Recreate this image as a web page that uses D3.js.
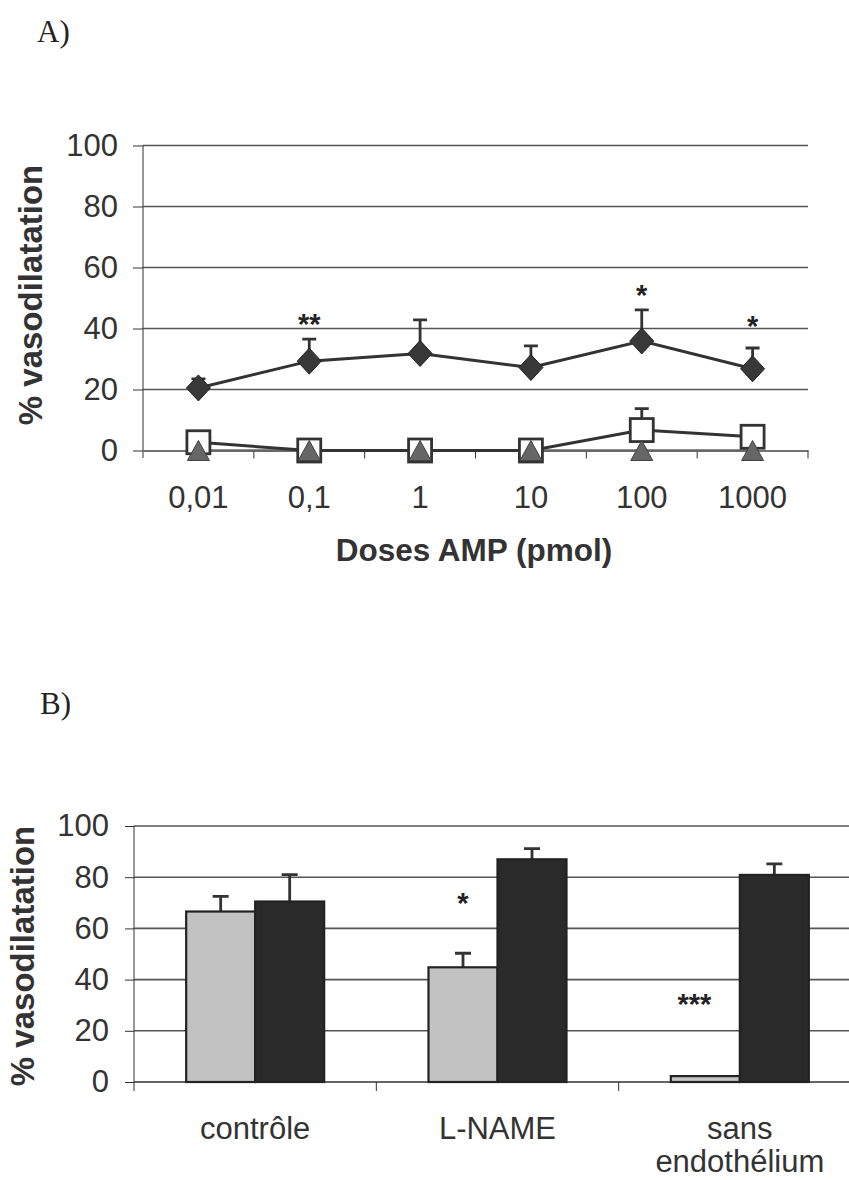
<!DOCTYPE html>
<html>
<head>
<meta charset="utf-8">
<script src="https://cdn.jsdelivr.net/npm/d3@7"></script>
<style>
  body { margin: 0; background: #fff; }
  text { font-family: "Liberation Sans", Arial, sans-serif; fill: #222; }
  .serif { font-family: "Liberation Serif", "Times New Roman", serif; }
</style>
</head>
<body>
<svg width="849" height="1180"></svg>
<script>
// panel A
var doses = ["0,01", "0,1", "1", "10", "100", "1000"];
var diamondMean = [20.5, 29.3, 31.8, 27.2, 35.9, 26.8];
var diamondErr = [3, 7.2, 11, 7.1, 10.2, 6.8];
var squareMean = [2.7, 0, 0, 0, 6.7, 4.5];
var squareErr = [0, 0, 0, 0, 7, 0];
var triangleMean = [0, 0, 0, 0, 0, 0];
var starsA = ["", "**", "", "", "*", "*"];
var yTicks = [0, 20, 40, 60, 80, 100];

// panel B
var groups = ["contrôle", "L-NAME", "sans endothélium"];
var lightMean = [66.6, 44.8, 2.3];
var lightErr = [5.9, 5.5, 0];
var darkMean = [70.5, 87, 80.9];
var darkErr = [10.5, 4.2, 4.3];
var starsB = ["", "*", "***"];
var starLevelB = [0, 71, 31.5];

var svg = d3.select("svg");

svg.append("text").attr("class", "serif").attr("x", 37).attr("y", 42)
   .style("font-size", "31px").text("A)");
svg.append("text").attr("class", "serif").attr("x", 40).attr("y", 714)
   .style("font-size", "31px").text("B)");

// ---------- A ----------
var xA = d3.scaleBand().domain(doses).range([143, 808]).padding(0);
var yA = d3.scaleLinear().domain([0, 100]).range([450.5, 145.5]);
var gA = svg.append("g");

gA.selectAll(".grid").data(yTicks.slice(1)).enter().append("line")
  .attr("x1", 143).attr("x2", 808)
  .attr("y1", function(d){ return yA(d) }).attr("y2", function(d){ return yA(d) })
  .style("stroke", "#555").style("stroke-width", 1.6);

var axA = gA.append("g").attr("transform", "translate(143,0)")
  .call(d3.axisLeft(yA).tickValues(yTicks).tickSize(10).tickPadding(15));
axA.select(".domain").attr("d", "M0,145.5V458").style("stroke", "#333");
axA.selectAll(".tick line").style("stroke", "#333");
axA.selectAll(".tick text").style("font-size", "31px").style("fill", "#333")
   .style("font-family", "Liberation Sans, Arial, sans-serif");

var bxA = gA.append("g").attr("transform", "translate(0," + yA(0) + ")")
  .call(d3.axisBottom(xA).tickSize(0).tickPadding(35));
bxA.select(".domain").style("stroke", "#444").style("stroke-width", 1.6);
bxA.selectAll(".tick text").style("font-size", "31px").style("fill", "#333")
   .style("font-family", "Liberation Sans, Arial, sans-serif");
gA.selectAll(".xtk").data(doses).enter().append("line")
  .attr("x1", function(d){ return xA(d) + xA.bandwidth() }).attr("x2", function(d){ return xA(d) + xA.bandwidth() })
  .attr("y1", yA(0)).attr("y2", yA(0) + 8).style("stroke", "#333");

var cx = function(d, i){ return xA(doses[i]) + xA.bandwidth() / 2 };
var lineA = function(vals){
  return d3.line().x(function(d, i){ return xA(doses[i]) + xA.bandwidth() / 2 })
                  .y(function(d){ return yA(d) })(vals);
};

// error bars (upper only)
function errA(mean, err) {
  var d = mean.map(function(m, i){ return {m: m, e: err[i], i: i} }).filter(function(d){ return d.e > 0 });
  gA.selectAll(null).data(d).enter().append("path")
    .attr("d", function(d){
      var x = cx(null, d.i), y0 = yA(d.m), y1 = yA(d.m + d.e);
      return "M" + x + "," + y0 + "V" + y1 + "M" + (x - 7) + "," + y1 + "H" + (x + 7);
    })
    .style("stroke", "#333").style("stroke-width", 2.8).style("fill", "none");
}
errA(diamondMean, diamondErr);
errA(squareMean, squareErr);

gA.append("path").attr("d", lineA(triangleMean)).style("stroke", "#666").style("stroke-width", 2.5).style("fill", "none");
gA.append("path").attr("d", lineA(squareMean)).style("stroke", "#333").style("stroke-width", 3).style("fill", "none");
gA.append("path").attr("d", lineA(diamondMean)).style("stroke", "#333").style("stroke-width", 3).style("fill", "none");

gA.selectAll(".sq").data(squareMean).enter().append("rect")
  .attr("x", function(d, i){ return cx(d, i) - 11.5 }).attr("y", function(d){ return yA(d) - 11.5 })
  .attr("width", 23).attr("height", 23)
  .style("fill", "#fff").style("stroke", "#333").style("stroke-width", 2.8);

gA.selectAll(".tri").data(triangleMean).enter().append("path")
  .attr("d", function(d, i){
    var x = cx(d, i), y = yA(d);
    return "M" + (x - 11) + "," + (y + 10) + "L" + x + "," + (y - 10) + "L" + (x + 11) + "," + (y + 10) + "Z";
  })
  .style("fill", "#666").style("stroke", "#444").style("stroke-width", 1);

gA.selectAll(".dia").data(diamondMean).enter().append("path")
  .attr("d", function(d, i){
    var x = cx(d, i), y = yA(d);
    return "M" + x + "," + (y - 13) + "L" + (x + 12) + "," + y + "L" + x + "," + (y + 13) + "L" + (x - 12) + "," + y + "Z";
  })
  .style("fill", "#383838").style("stroke", "#222").style("stroke-width", 1);

gA.selectAll(".starA").data(starsA).enter().append("text")
  .attr("x", cx).attr("y", function(d, i){ return yA(diamondMean[i] + diamondErr[i]) - (i == 5 ? 12 : 5) })
  .attr("text-anchor", "middle").style("font-size", "29px").style("font-weight", "bold")
  .text(function(d){ return d });

svg.append("text").attr("x", 474).attr("y", 561).attr("text-anchor", "middle")
   .style("font-size", "31.5px").style("font-weight", "bold").style("fill", "#333").text("Doses AMP (pmol)");
svg.append("text").attr("transform", "translate(42,295) rotate(-90)").attr("text-anchor", "middle")
   .style("font-size", "33px").style("font-weight", "bold").style("fill", "#333").text("% vasodilatation");

// ---------- B ----------
var xB = d3.scaleBand().domain(groups).range([134, 861]).padding(0);
var sB = d3.scaleBand().domain(["light", "dark"]).range([-69, 69]).padding(0);
var yB = d3.scaleLinear().domain([0, 100]).range([1082, 826]);
var gB = svg.append("g");

gB.selectAll(".grid").data(yTicks.slice(1)).enter().append("line")
  .attr("x1", 134).attr("x2", 849)
  .attr("y1", function(d){ return yB(d) }).attr("y2", function(d){ return yB(d) })
  .style("stroke", "#555").style("stroke-width", 1.6);

var axB = gB.append("g").attr("transform", "translate(134,0)")
  .call(d3.axisLeft(yB).tickValues(yTicks).tickSize(9).tickPadding(16));
axB.select(".domain").attr("d", "M0,826V1082").style("stroke", "#333");
axB.selectAll(".tick line").style("stroke", "#333");
axB.selectAll(".tick text").style("font-size", "31px").style("fill", "#333")
   .style("font-family", "Liberation Sans, Arial, sans-serif");

gB.append("line").attr("x1", 134).attr("x2", 849).attr("y1", yB(0)).attr("y2", yB(0))
  .style("stroke", "#333").style("stroke-width", 1.6);
gB.selectAll(".xtk").data(groups).enter().append("line")
  .attr("x1", function(d){ return xB(d) }).attr("x2", function(d){ return xB(d) })
  .attr("y1", yB(0)).attr("y2", yB(0) + 9).style("stroke", "#333");

var bars = [];
groups.forEach(function(g, i){
  bars.push({g: g, s: "light", v: lightMean[i], e: lightErr[i]});
  bars.push({g: g, s: "dark", v: darkMean[i], e: darkErr[i]});
});

gB.selectAll(".errB").data(bars.filter(function(d){ return d.e > 0 })).enter().append("path")
  .attr("d", function(d){
    var x = xB(d.g) + xB.bandwidth() / 2 + sB(d.s) + sB.bandwidth() / 2, y0 = yB(d.v), y1 = yB(d.v + d.e);
    return "M" + x + "," + y0 + "V" + y1 + "M" + (x - 8) + "," + y1 + "H" + (x + 8);
  })
  .style("stroke", "#333").style("stroke-width", 2.8).style("fill", "none");

gB.selectAll(".bar").data(bars).enter().append("rect")
  .attr("x", function(d){ return xB(d.g) + xB.bandwidth() / 2 + sB(d.s) })
  .attr("y", function(d){ return yB(d.v) })
  .attr("width", sB.bandwidth())
  .attr("height", function(d){ return yB(0) - yB(d.v) })
  .style("fill", function(d){ return d.s == "light" ? "#c2c2c2" : "#2a2a2a" })
  .style("stroke", "#222").style("stroke-width", 2.2);

gB.selectAll(".starB").data(starsB).enter().append("text")
  .attr("x", function(d, i){ return xB(groups[i]) + xB.bandwidth() / 2 + sB("light") + sB.bandwidth() / 2 - (i == 2 ? 11 : 0) })
  .attr("y", function(d, i){ return yB(starLevelB[i]) + 13 })
  .attr("text-anchor", "middle").style("font-size", "29px").style("font-weight", "bold")
  .text(function(d){ return d });

var cat = gB.selectAll(".cat").data(groups).enter().append("text")
  .attr("x", function(d){ return xB(d) + xB.bandwidth() / 2 })
  .attr("y", 1139).attr("text-anchor", "middle")
  .style("font-size", "31px").style("fill", "#333");
cat.each(function(d){
  var words = d.split(" ");
  var t = d3.select(this);
  words.forEach(function(w, k){
    t.append("tspan").attr("x", t.attr("x")).attr("dy", k == 0 ? 0 : 33).text(w);
  });
});

svg.append("text").attr("transform", "translate(34,956) rotate(-90)").attr("text-anchor", "middle")
   .style("font-size", "33px").style("font-weight", "bold").style("fill", "#333").text("% vasodilatation");
</script>
</body>
</html>
